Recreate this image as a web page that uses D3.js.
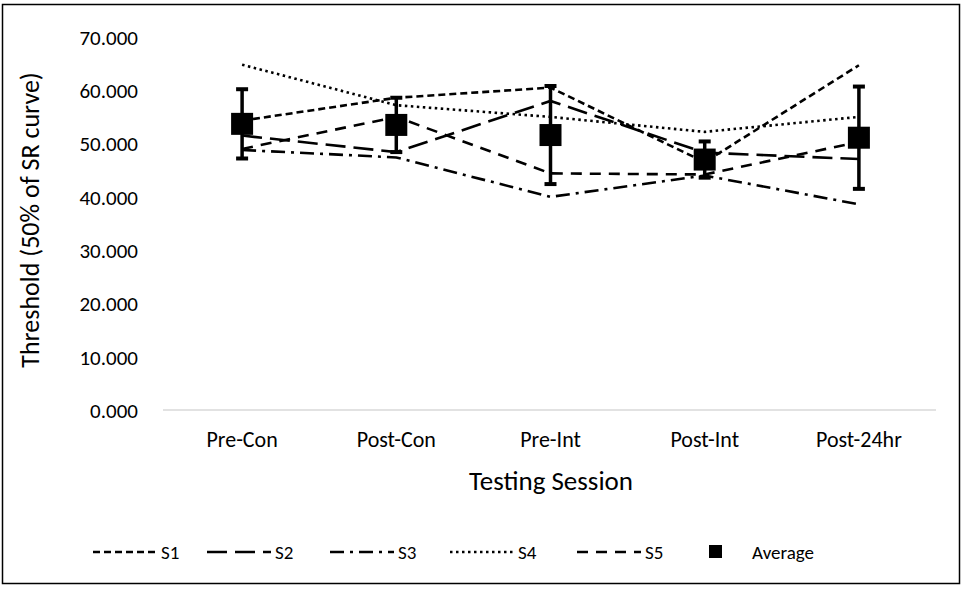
<!DOCTYPE html>
<html><head><meta charset="utf-8">
<script src="https://cdn.jsdelivr.net/npm/d3@7"></script>
<style>body{margin:0;background:#fff}svg{display:block}text{font-family:Carlito,Calibri,Lato,sans-serif;fill:#000}</style>
</head><body><svg id="c" width="963" height="589"></svg>
<script>
const categories = ["Pre-Con","Post-Con","Pre-Int","Post-Int","Post-24hr"];
const S1 = [54.3, 58.6, 60.5, 46.5, 64.7];
const S2 = [51.5, 48.4, 58.0, 48.3, 47.1];
const S3 = [48.8, 47.4, 40.0, 44.0, 38.6];
const S4 = [64.8, 57.2, 55.0, 52.2, 55.0];
const S5 = [49.0, 55.0, 44.4, 44.2, 50.3];
const average = [53.7, 53.5, 51.6, 47.0, 51.1];
const errors = [6.5, 5.1, 9.2, 3.4, 9.6];
const yTicks = [0,10,20,30,40,50,60,70];
const seriesNames = ["S1","S2","S3","S4","S5"];

const series = [S1,S2,S3,S4,S5];
const dashes = ["7,4","20,8","14,6,3,6","2.5,3.5","11,8"];
const FONT = "Carlito,Calibri,Lato,sans-serif";

const svg = d3.select("#c");
svg.append("rect").attr("x",2.5).attr("y",4.5).attr("width",957).attr("height",579)
  .attr("fill","#fff").attr("stroke","#000").attr("stroke-width",1.5);

const x = d3.scaleBand().domain(categories).range([165,936]).padding(0);
const cx = c => x(c) + x.bandwidth()/2;
const y = d3.scaleLinear().domain([0,70]).range([410,37]);

// y tick labels
const yAxis = d3.axisLeft(y).tickValues(yTicks).tickFormat(d3.format(".3f")).tickSize(0).tickPadding(0);
const gy = svg.append("g").attr("transform","translate(138,0)").call(yAxis);
gy.select(".domain").remove();
gy.selectAll("text").attr("font-size",21).attr("font-family",FONT).attr("fill","#000").attr("dy","0.35em");

// x axis
const xAxis = d3.axisBottom(x).tickSize(0).tickPadding(0);
const gx = svg.append("g").attr("transform","translate(0,410)").call(xAxis);
gx.select(".domain").attr("stroke","#d9d9d9").attr("stroke-width",1.5).attr("d","M163,0H936");
gx.selectAll("text").attr("font-size",22).attr("font-family",FONT).attr("fill","#000").attr("y",29).attr("dy","0.35em");

// titles
svg.append("text").attr("x",551).attr("y",481).attr("text-anchor","middle").attr("dy","0.35em")
  .attr("font-size",27).text("Testing Session");
svg.append("text").attr("transform","translate(30,220) rotate(-90)").attr("text-anchor","middle").attr("dy","0.35em")
  .attr("font-size",26).text("Threshold (50% of SR curve)");

// lines
const line = d3.line().x((d,i)=>cx(categories[i])).y(d=>y(d));
series.forEach((s,k)=>{
  svg.append("path").attr("d",line(s)).attr("fill","none").attr("stroke","#000")
    .attr("stroke-width",2.6).attr("stroke-dasharray",dashes[k]);
});

// error bars & markers
const eg = svg.append("g");
average.forEach((v,i)=>{
  const xc = cx(categories[i]);
  eg.append("line").attr("x1",xc).attr("x2",xc).attr("y1",y(v+errors[i])).attr("y2",y(v-errors[i]))
    .attr("stroke","#000").attr("stroke-width",3.5);
  [v+errors[i], v-errors[i]].forEach(e=>{
    eg.append("line").attr("x1",xc-6).attr("x2",xc+6).attr("y1",y(e)).attr("y2",y(e))
      .attr("stroke","#000").attr("stroke-width",4);
  });
  eg.append("rect").attr("x",xc-11).attr("y",y(v)-11).attr("width",22).attr("height",22).attr("fill","#000");
});

// legend
const legendX = [93, 207, 330, 450, 577];
const lg = svg.append("g");
seriesNames.forEach((n,k)=>{
  lg.append("line").attr("x1",legendX[k]).attr("x2",legendX[k]+64).attr("y1",552).attr("y2",552)
    .attr("stroke","#000").attr("stroke-width",2.6).attr("stroke-dasharray",dashes[k]);
  lg.append("text").attr("x",legendX[k]+68).attr("y",552).attr("dy","0.35em").attr("font-size",19).text(n);
});
lg.append("rect").attr("x",709).attr("y",545).attr("width",13).attr("height",13).attr("fill","#000");
lg.append("text").attr("x",752).attr("y",552).attr("dy","0.35em").attr("font-size",19).text("Average");
</script></body></html>
